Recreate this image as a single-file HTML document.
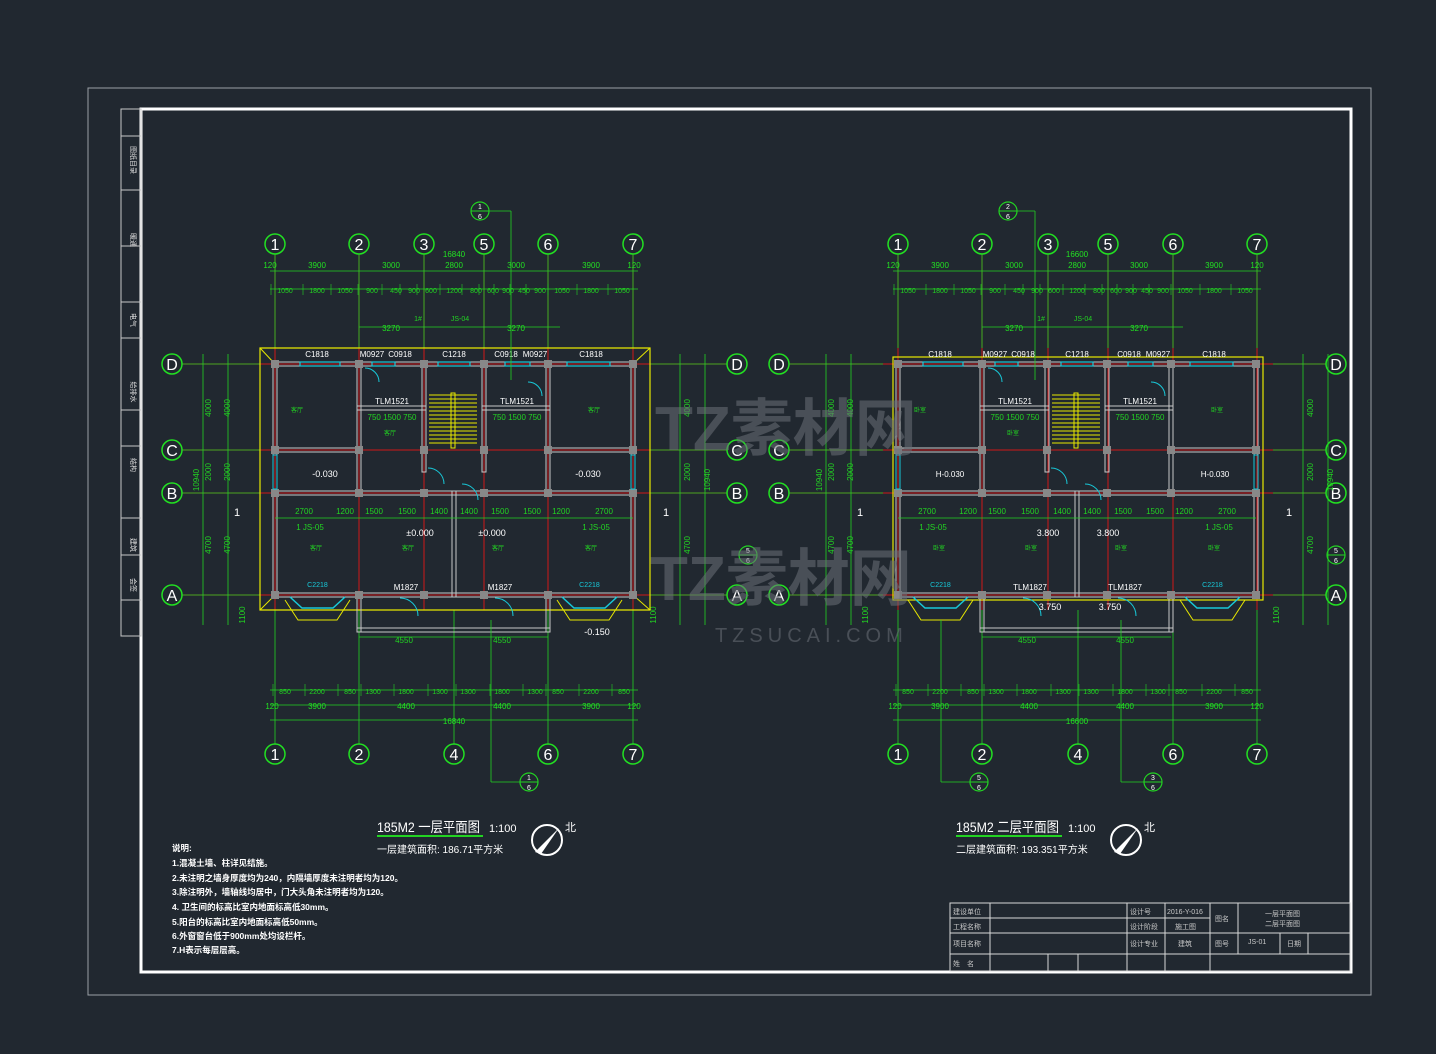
<!DOCTYPE html>
<html><head><meta charset="utf-8">
<style>
html,body{margin:0;padding:0;background:#212830;}
svg{display:block;}
text{font-family:"Liberation Sans","Noto Sans CJK SC",sans-serif;}
</style></head>
<body>
<svg id="s" width="1436" height="1054" viewBox="0 0 1436 1054" xmlns="http://www.w3.org/2000/svg">
<rect width="1436" height="1054" fill="#212830"/>
<rect x="88" y="88" width="1283" height="907" fill="none" stroke="#9aa0a6" stroke-width="1"/>
<rect x="141" y="109" width="1210" height="863" fill="none" stroke="#ffffff" stroke-width="3"/>
<g id="side" stroke="#c8c8c8" fill="none" stroke-width="1">
<rect x="121" y="109" width="20" height="527"/>
</g>
<g id="g"></g>
<!-- title block -->
<g stroke="#d8d8d8" stroke-width="1" fill="none">
<rect x="950" y="903" width="400" height="68"/>
<line x1="950" y1="918" x2="1210" y2="918"/><line x1="950" y1="933" x2="1350" y2="933"/><line x1="950" y1="954" x2="1350" y2="954"/>
<line x1="990" y1="903" x2="990" y2="971"/><line x1="1127" y1="903" x2="1127" y2="971"/><line x1="1165" y1="903" x2="1165" y2="971"/>
<line x1="1210" y1="903" x2="1210" y2="971"/><line x1="1238" y1="903" x2="1238" y2="954"/><line x1="1280" y1="933" x2="1280" y2="954"/><line x1="1308" y1="933" x2="1308" y2="954"/>
<line x1="1048" y1="954" x2="1048" y2="971"/><line x1="1078" y1="954" x2="1078" y2="971"/>
</g>
<g fill="#c8c8c8" font-size="7">
<text x="953" y="914">建设单位</text><text x="953" y="929">工程名称</text><text x="953" y="946">项目名称</text><text x="953" y="966">姓　名</text>
<text x="1130" y="914">设计号</text><text x="1167" y="914">2016-Y-016</text><text x="1130" y="929">设计阶段</text><text x="1175" y="929">施工图</text>
<text x="1130" y="946">设计专业</text><text x="1178" y="946">建筑</text><text x="1215" y="921">图名</text><text x="1215" y="946">图号</text>
<text x="1265" y="916">一层平面图</text><text x="1265" y="926">二层平面图</text><text x="1248" y="944">JS-01</text><text x="1287" y="946">日期</text>
</g>
<!-- notes -->
<g fill="#ffffff" font-size="8.5" font-weight="bold">
<text x="172" y="851">说明:</text>
<text x="172" y="866">1.混凝土墙、柱详见结施。</text>
<text x="172" y="881">2.未注明之墙身厚度均为240，内隔墙厚度未注明者均为120。</text>
<text x="172" y="895">3.除注明外，墙轴线均居中，门大头角未注明者均为120。</text>
<text x="172" y="910">4. 卫生间的标高比室内地面标高低30mm。</text>
<text x="172" y="925">5.阳台的标高比室内地面标高低50mm。</text>
<text x="172" y="939">6.外窗窗台低于900mm处均设栏杆。</text>
<text x="172" y="953">7.H表示每层层高。</text>
</g>
<g fill="#ffffff">
<text x="377" y="832" font-size="14" textLength="103" lengthAdjust="spacingAndGlyphs">185M2  一层平面图</text><text x="489" y="832" font-size="11">1:100</text>
<rect x="377" y="835" width="106" height="2" fill="#22d322"/>
<text x="377" y="853" font-size="10">一层建筑面积: 186.71平方米</text>
<text x="956" y="832" font-size="14" textLength="103" lengthAdjust="spacingAndGlyphs">185M2  二层平面图</text><text x="1068" y="832" font-size="11">1:100</text>
<rect x="956" y="835" width="106" height="2" fill="#22d322"/>
<text x="956" y="853" font-size="10">二层建筑面积: 193.351平方米</text>
<text x="565" y="831" font-size="11">北</text><text x="1144" y="831" font-size="11">北</text>
</g>
<g stroke="#fff" stroke-width="2" fill="none"><circle cx="547" cy="840" r="15"/><circle cx="1126" cy="840" r="15"/></g>
<g fill="#fff"><polygon points="535,852 559,828 541,854"/><polygon points="1114,852 1138,828 1120,854"/></g>
<!-- watermark -->
<g fill="#6b7078" opacity="0.55">
<text x="655" y="450" font-size="62" font-weight="bold">TZ素材网</text>
<text x="650" y="600" font-size="62" font-weight="bold">TZ素材网</text>
<text x="715" y="642" font-size="20" letter-spacing="5">TZSUCAI.COM</text>
</g>
</svg>
<script>
var NS="http://www.w3.org/2000/svg",G=document.getElementById('g');
function el(t,a,txt){var e=document.createElementNS(NS,t);for(var k in a)e.setAttribute(k,a[k]);if(txt!=null)e.textContent=txt;G.appendChild(e);return e;}
function L(x1,y1,x2,y2,c,w){el('line',{x1:x1,y1:y1,x2:x2,y2:y2,stroke:c,'stroke-width':w||1});}
function T(x,y,s,c,f,a){el('text',{x:x,y:y,fill:c||'#22e022','font-size':f||8,'text-anchor':a||'middle'},s);}
function C(x,y,l){el('circle',{cx:x,cy:y,r:10,fill:'none',stroke:'#22e022','stroke-width':1.5});T(x,y+6,l,'#fff',16);}
var GR='#22d322',RD='#d01818',WL='#c8c8c8',YL='#e8e800',CY='#18c8d8';
var sy=[109,136,190,246,302,338,410,446,518,555,600,636];
for(var i=0;i<sy.length;i++){var e=document.createElementNS(NS,'line');e.setAttribute('x1',121);e.setAttribute('x2',141);e.setAttribute('y1',sy[i]);e.setAttribute('y2',sy[i]);e.setAttribute('stroke','#c8c8c8');document.getElementById('side').appendChild(e);}
[[160,'图纸目录'],[240,'暖通'],[320,'电气'],[392,'给排水'],[465,'结构'],[545,'建筑'],[585,'会签']].forEach(function(p){el('text',{x:131,y:p[0],fill:'#ddd','font-size':7,'text-anchor':'middle',transform:'rotate(90 131 '+p[0]+')'},p[1]);});
var rows={D:364,C:450,B:493,A:595};
function plan(o,top,bot,secTop,secBot,second,lc,rc){
  var X=function(v){return v+o;};
  var ax=[275,359,424,484,548,633];
  top.forEach(function(p){L(X(p[0]),254,X(p[0]),610,RD,1);L(X(p[0]),254,X(p[0]),348,GR,0.8);C(X(p[0]),244,p[1]);});
  bot.forEach(function(p){L(X(p[0]),610,X(p[0]),744,GR,0.8);C(X(p[0]),754,p[1]);});
  for(var r in rows){L(X(lc+10),rows[r],X(rc-10),rows[r],RD,1);L(X(lc+10),rows[r],X(260),rows[r],GR,0.8);L(X(650),rows[r],X(rc-10),rows[r],GR,0.8);C(X(lc),rows[r],r);C(X(rc),rows[r],r);}
  [271,289,327].forEach(function(y,i){L(X(i==2?359:270),y,X(i==2?560:638),y,GR,0.8);});
  var t1=[[270,'120'],[317,'3900'],[391,'3000'],[454,'2800'],[516,'3000'],[591,'3900'],[634,'120']];
  t1.forEach(function(p){T(X(p[0]),268,p[1]);});
  var t2=[285,317,345,372,396,414,431,454,476,493,508,524,540,562,591,622];
  var t2l=['1050','1800','1050','900','450','900','600','1200','800','600','900','450','900','1050','1800','1050'];
  t2.forEach(function(x,i){T(X(x),293,t2l[i],GR,7);L(X(x-14),284,X(x-14),295,GR,0.6);});
  T(X(454),257,second?'16600':'16840');T(X(391),331,'3270');T(X(516),331,'3270');T(X(418),321,'1#',GR,7);T(X(460),321,'JS-04',GR,7);
  [690,705,720].forEach(function(y){L(X(270),y,X(638),y,GR,0.8);});
  var b1=[[285,'850'],[317,'2200'],[350,'850'],[373,'1300'],[406,'1800'],[440,'1300'],[468,'1300'],[502,'1800'],[535,'1300'],[558,'850'],[591,'2200'],[624,'850']];
  b1.forEach(function(p){T(X(p[0]),694,p[1],GR,7);L(X(p[0]-12),684,X(p[0]-12),696,GR,0.6);});
  [[272,'120'],[317,'3900'],[406,'4400'],[502,'4400'],[591,'3900'],[634,'120']].forEach(function(p){T(X(p[0]),709,p[1]);});
  T(X(454),724,second?'16600':'16840');
  [[203,rows.D,rows.A],[228,rows.D,rows.A],[680,rows.D,rows.A],[705,rows.D,rows.A]].forEach(function(d){L(X(d[0]),d[1]-10,X(d[0]),d[2]+30,GR,0.8);});
  function vt(x,y,s){el('text',{x:X(x),y:y,fill:GR,'font-size':8,'text-anchor':'middle',transform:'rotate(-90 '+X(x)+' '+y+')'},s);}
  vt(211,408,'4000');vt(230,408,'4000');vt(211,472,'2000');vt(230,472,'2000');vt(211,545,'4700');vt(230,545,'4700');vt(199,480,'10940');
  vt(690,408,'4000');vt(690,472,'2000');vt(690,545,'4700');vt(710,480,'10940');vt(245,615,'1100');vt(656,615,'1100');
  if(!second){el('polygon',{points:X(260)+',348 '+X(650)+',348 '+X(650)+',610 '+X(260)+',610',fill:'none',stroke:YL,'stroke-width':1.2});
    L(X(260),348,X(275),364,YL,1);L(X(650),348,X(633),364,YL,1);L(X(260),610,X(275),595,YL,1);L(X(650),610,X(633),595,YL,1);}
  else{el('rect',{x:X(270),y:357,width:370,height:243,fill:'none',stroke:YL,'stroke-width':1.2});}
  function wall(x1,y1,x2,y2){el('rect',{x:Math.min(x1,x2)-2,y:Math.min(y1,y2)-2,width:Math.abs(x2-x1)+4,height:Math.abs(y2-y1)+4,fill:'none',stroke:WL,'stroke-width':1});}
  wall(X(275),364,X(633),364);wall(X(275),595,X(359),595);wall(X(548),595,X(633),595);wall(X(359),595,X(548),595);
  wall(X(275),364,X(275),595);wall(X(633),364,X(633),595);
  wall(X(359),364,X(359),493);wall(X(548),364,X(548),493);wall(X(424),364,X(424),470);wall(X(484),364,X(484),470);
  wall(X(359),493,X(548),493);wall(X(275),493,X(359),493);wall(X(548),493,X(633),493);wall(X(454),493,X(454),595);
  wall(X(275),450,X(359),450);wall(X(548),450,X(633),450);
  wall(X(359),408,X(424),408);wall(X(484),408,X(548),408);
  wall(X(359),595,X(359),630);wall(X(548),595,X(548),630);wall(X(359),630,X(548),630);
  ax.forEach(function(x){[364,450,493,595].forEach(function(y){el('rect',{x:X(x)-4,y:y-4,width:8,height:8,fill:'#888'});});});
  [[300,340,364],[438,470,364],[567,610,364],[372,395,364],[505,530,364]].forEach(function(w){el('rect',{x:X(w[0]),y:w[2]-2,width:w[1]-w[0],height:4,fill:'none',stroke:CY,'stroke-width':1.2});});
  el('rect',{x:X(273),y:455,width:4,height:34,fill:'none',stroke:CY});el('rect',{x:X(631),y:455,width:4,height:34,fill:'none',stroke:CY});
  [[290,345],[562,617]].forEach(function(b){el('polyline',{points:X(b[0])+',597 '+X(b[0]+12)+',608 '+X(b[1]-12)+',608 '+X(b[1])+',597',fill:'none',stroke:CY,'stroke-width':1.5});
    el('polyline',{points:X(b[0]-5)+',600 '+X(b[0]+8)+',620 '+X(b[1]-8)+',620 '+X(b[1]+5)+',600',fill:'none',stroke:YL,'stroke-width':1});T(X((b[0]+b[1])/2),587,'C2218',CY,7);});
  for(var y=395;y<445;y+=4)L(X(429),y,X(477),y,YL,1);
  el('rect',{x:X(451),y:393,width:4,height:55,fill:'none',stroke:YL});
  function arc(x,y,r,sw){el('path',{d:'M'+x+','+y+' a'+r+','+r+' 0 0 '+(sw||1)+' '+r+','+r,fill:'none',stroke:CY,'stroke-width':1});}
  arc(X(428),468,16);arc(X(462),484,16,0);arc(X(400),598,18);arc(X(495),598,18);arc(X(365),368,14);arc(X(528),382,14,0);
  T(X(317),357,'C1818','#fff');T(X(372),357,'M0927','#fff');T(X(400),357,'C0918','#fff');T(X(454),357,'C1218','#fff');
  T(X(506),357,'C0918','#fff');T(X(535),357,'M0927','#fff');T(X(591),357,'C1818','#fff');
  T(X(392),404,'TLM1521','#fff');T(X(517),404,'TLM1521','#fff');
  T(X(392),420,'750 1500 750',GR,8);T(X(517),420,'750 1500 750',GR,8);
  [[304,'2700'],[345,'1200'],[374,'1500'],[407,'1500'],[439,'1400'],[469,'1400'],[500,'1500'],[532,'1500'],[561,'1200'],[604,'2700']].forEach(function(p){T(X(p[0]),514,p[1],GR,8);});
  L(X(275),518,X(633),518,GR,0.8);
  if(!second){T(X(420),536,'±0.000','#fff',9);T(X(492),536,'±0.000','#fff',9);T(X(406),590,'M1827','#fff');T(X(500),590,'M1827','#fff');
    T(X(325),477,'-0.030','#fff',9);T(X(588),477,'-0.030','#fff',9);T(X(597),635,'-0.150','#fff',9);}
  else{T(X(950-623),477,'H-0.030','#fff',8);T(X(1215-623),477,'H-0.030','#fff',8);T(X(1048-623),536,'3.800','#fff',9);T(X(1108-623),536,'3.800','#fff',9);
    T(X(1030-623),590,'TLM1827','#fff');T(X(1125-623),590,'TLM1827','#fff');T(X(1050-623),610,'3.750','#fff',9);T(X(1110-623),610,'3.750','#fff',9);}
  T(X(404),643,'4550',GR,8);T(X(502),643,'4550',GR,8);L(X(359),637,X(548),637,GR,0.8);
  T(X(310),530,'1    JS-05',GR,8);T(X(596),530,'1    JS-05',GR,8);
  T(X(237),516,'1','#fff',11);T(X(666),516,'1','#fff',11);
  [[297,412],[316,550],[408,550],[498,550],[591,550],[390,435],[594,412]].forEach(function(p){T(X(p[0]),p[1],second?'卧室':'客厅',GR,6);});
  (function(){var x=X(secTop[0]);el('circle',{cx:x,cy:211,r:9,fill:'none',stroke:GR,'stroke-width':1.2});L(x-9,211,x+9,211,GR,1);T(x,209,secTop[1],'#fff',7);T(x,219,'6','#fff',7);L(x+9,211,X(secTop[2]),211,GR,0.8);L(X(secTop[2]),211,X(secTop[2]),380,GR,0.8);})();
  secBot.forEach(function(s){var x=X(s[0]);el('circle',{cx:x,cy:782,r:9,fill:'none',stroke:GR,'stroke-width':1.2});L(x-9,782,x+9,782,GR,1);T(x,780,s[1],'#fff',7);T(x,790,'6','#fff',7);L(X(s[2]),782,x-9,782,GR,0.8);L(X(s[2]),620,X(s[2]),782,GR,0.8);});
  var mx=X(second?713:748);el('circle',{cx:mx,cy:555,r:9,fill:'none',stroke:GR,'stroke-width':1.2});L(mx-9,555,mx+9,555,GR,1);T(mx,553,'5','#fff',7);T(mx,563,'6','#fff',7);
}
plan(0,[[275,'1'],[359,'2'],[424,'3'],[484,'5'],[548,'6'],[633,'7']],[[275,'1'],[359,'2'],[454,'4'],[548,'6'],[633,'7']],[480,'1',511],[[529,'1',491]],false,172,737);
plan(623,[[275,'1'],[359,'2'],[425,'3'],[485,'5'],[550,'6'],[634,'7']],[[275,'1'],[359,'2'],[455,'4'],[550,'6'],[634,'7']],[385,'2',412],[[356,'5',318],[530,'3',498]],true,156,713);
</script>
</body></html>
